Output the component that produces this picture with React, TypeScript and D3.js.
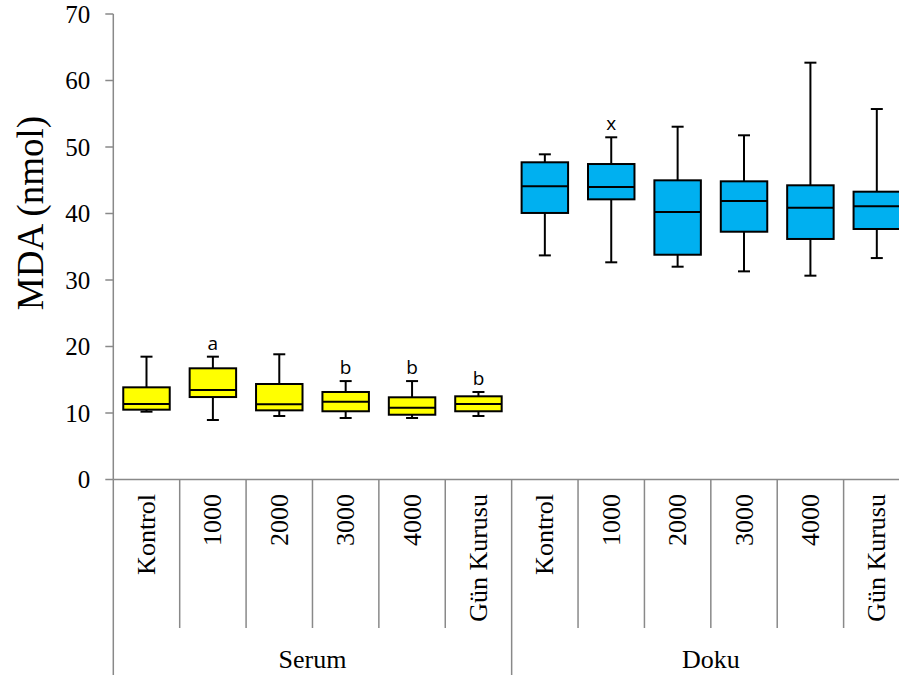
import React, { useEffect, useRef } from 'react';
import * as d3 from 'd3';

const groups = ['Serum', 'Doku'];
const categories = ['Kontrol', '1000', '2000', '3000', '4000', 'Gün Kurusu'];
const yTicks = [0, 10, 20, 30, 40, 50, 60, 70];

// Serum
const serumMin = [10.2, 8.95, 9.55, 9.25, 9.25, 9.55];
const serumQ1 = [10.5, 12.4, 10.4, 10.26, 9.74, 10.26];
const serumMedian = [11.35, 13.46, 11.3, 11.7, 10.8, 11.35];
const serumQ3 = [13.86, 16.72, 14.36, 13.16, 12.36, 12.51];
const serumMax = [18.47, 18.47, 18.83, 14.8, 14.8, 13.16];
const serumLetters = ['', 'a', '', 'b', 'b', 'b'];

// Doku
const dokuMin = [33.7, 32.66, 32.0, 31.3, 30.65, 33.3];
const dokuQ1 = [40.08, 42.13, 33.8, 37.26, 36.17, 37.67];
const dokuMedian = [44.09, 43.98, 40.23, 41.88, 40.87, 41.08];
const dokuQ3 = [47.7, 47.44, 44.99, 44.84, 44.24, 43.28];
const dokuMax = [48.9, 51.46, 53.05, 51.76, 62.68, 55.71];
const dokuLetters = ['', 'x', '', '', '', ''];

const groupColors = ['#FFFF00', '#00B0F0'];

function App() {
  const svgRef = useRef<SVGSVGElement>(null);

  useEffect(() => {
    const width = 899;
    const height = 679;
    const left = 113.3;
    const right = 910;
    const axisColor = '#898989';
    const serif = "'Liberation Serif', 'DejaVu Serif', serif";

    const svg = d3.select(svgRef.current)
      .attr('width', width)
      .attr('height', height);
    svg.selectAll('*').remove();

    const rows = [
      { min: serumMin, q1: serumQ1, med: serumMedian, q3: serumQ3, max: serumMax, letters: serumLetters },
      { min: dokuMin, q1: dokuQ1, med: dokuMedian, q3: dokuQ3, max: dokuMax, letters: dokuLetters },
    ];
    const data = rows.flatMap((r, g) => categories.map((c, i) => ({
      key: `${groups[g]}-${c}`,
      group: g,
      label: c,
      min: r.min[i], q1: r.q1[i], med: r.med[i], q3: r.q3[i], max: r.max[i],
      letter: r.letters[i],
    })));

    const x = d3.scaleBand<string>()
      .domain(data.map((d) => d.key))
      .range([left, right])
      .padding(0);

    const y = d3.scaleLinear().domain([0, 70]).range([479.5, 14]);
    const bw = x.bandwidth();
    const boxW = bw * 0.7;
    const capW = 12;

    // y axis
    svg.append('line')
      .attr('x1', left).attr('x2', left)
      .attr('y1', y(0)).attr('y2', y(70))
      .attr('stroke', axisColor).attr('stroke-width', 1.5);

    const yt = svg.selectAll('.ytick').data(yTicks).enter().append('g');
    yt.append('line')
      .attr('x1', left - 8).attr('x2', left)
      .attr('y1', (d) => y(d)).attr('y2', (d) => y(d))
      .attr('stroke', axisColor).attr('stroke-width', 1.5);
    yt.append('text')
      .attr('x', left - 23)
      .attr('y', (d) => y(d))
      .attr('dy', '0.35em')
      .attr('text-anchor', 'end')
      .attr('font-family', serif)
      .attr('font-size', 25)
      .text((d) => d);

    svg.append('text')
      .attr('transform', `translate(30, 213) rotate(-90)`)
      .attr('dy', '0.35em')
      .attr('text-anchor', 'middle')
      .attr('font-family', serif)
      .attr('font-size', 37)
      .text('MDA (nmol)');

    // x axis
    svg.append('line')
      .attr('x1', left).attr('x2', right)
      .attr('y1', y(0)).attr('y2', y(0))
      .attr('stroke', axisColor).attr('stroke-width', 1.5);

    const bounds = d3.range(data.length + 1);
    svg.selectAll('.sep').data(bounds).enter().append('line')
      .attr('x1', (i) => left + i * bw).attr('x2', (i) => left + i * bw)
      .attr('y1', y(0))
      .attr('y2', (i) => (i % categories.length === 0 ? 675 : 628))
      .attr('stroke', axisColor).attr('stroke-width', 1.5);

    svg.selectAll('.xlab').data(data).enter().append('text')
      .attr('transform', (d) => `translate(${x(d.key)! + bw / 2}, 494) rotate(-90)`)
      .attr('dy', '0.33em')
      .attr('text-anchor', 'end')
      .attr('font-family', serif)
      .attr('font-size', 26)
      .text((d) => d.label);

    svg.selectAll('.glab').data(groups).enter().append('text')
      .attr('x', (d, g) => left + (g * categories.length + categories.length / 2) * bw)
      .attr('y', 668)
      .attr('text-anchor', 'middle')
      .attr('font-family', serif)
      .attr('font-size', 26)
      .text((d) => d);

    // boxes
    const box = svg.selectAll('.box').data(data).enter().append('g')
      .attr('transform', (d) => `translate(${x(d.key)! + bw / 2},0)`);

    box.append('line')
      .attr('x1', 0).attr('x2', 0)
      .attr('y1', (d) => y(d.max)).attr('y2', (d) => y(d.q3))
      .attr('stroke', '#000').attr('stroke-width', 2);
    box.append('line')
      .attr('x1', 0).attr('x2', 0)
      .attr('y1', (d) => y(d.q1)).attr('y2', (d) => y(d.min))
      .attr('stroke', '#000').attr('stroke-width', 2);
    box.append('line')
      .attr('x1', -capW / 2).attr('x2', capW / 2)
      .attr('y1', (d) => y(d.max)).attr('y2', (d) => y(d.max))
      .attr('stroke', '#000').attr('stroke-width', 2);
    box.append('line')
      .attr('x1', -capW / 2).attr('x2', capW / 2)
      .attr('y1', (d) => y(d.min)).attr('y2', (d) => y(d.min))
      .attr('stroke', '#000').attr('stroke-width', 2);
    box.append('rect')
      .attr('x', -boxW / 2)
      .attr('width', boxW)
      .attr('y', (d) => y(d.q3))
      .attr('height', (d) => y(d.q1) - y(d.q3))
      .attr('fill', (d) => groupColors[d.group])
      .attr('stroke', '#000').attr('stroke-width', 2);
    box.append('line')
      .attr('x1', -boxW / 2).attr('x2', boxW / 2)
      .attr('y1', (d) => y(d.med)).attr('y2', (d) => y(d.med))
      .attr('stroke', '#000').attr('stroke-width', 2);
    box.append('text')
      .attr('y', (d) => y(d.max) - 7)
      .attr('text-anchor', 'middle')
      .attr('font-family', "'Open Sans', sans-serif")
      .attr('font-size', 19)
      .text((d) => d.letter);
  }, []);

  return (
    <svg ref={svgRef} style={{ position: 'absolute', left: 0, top: 0 }}></svg>
  );
}

export default App;
